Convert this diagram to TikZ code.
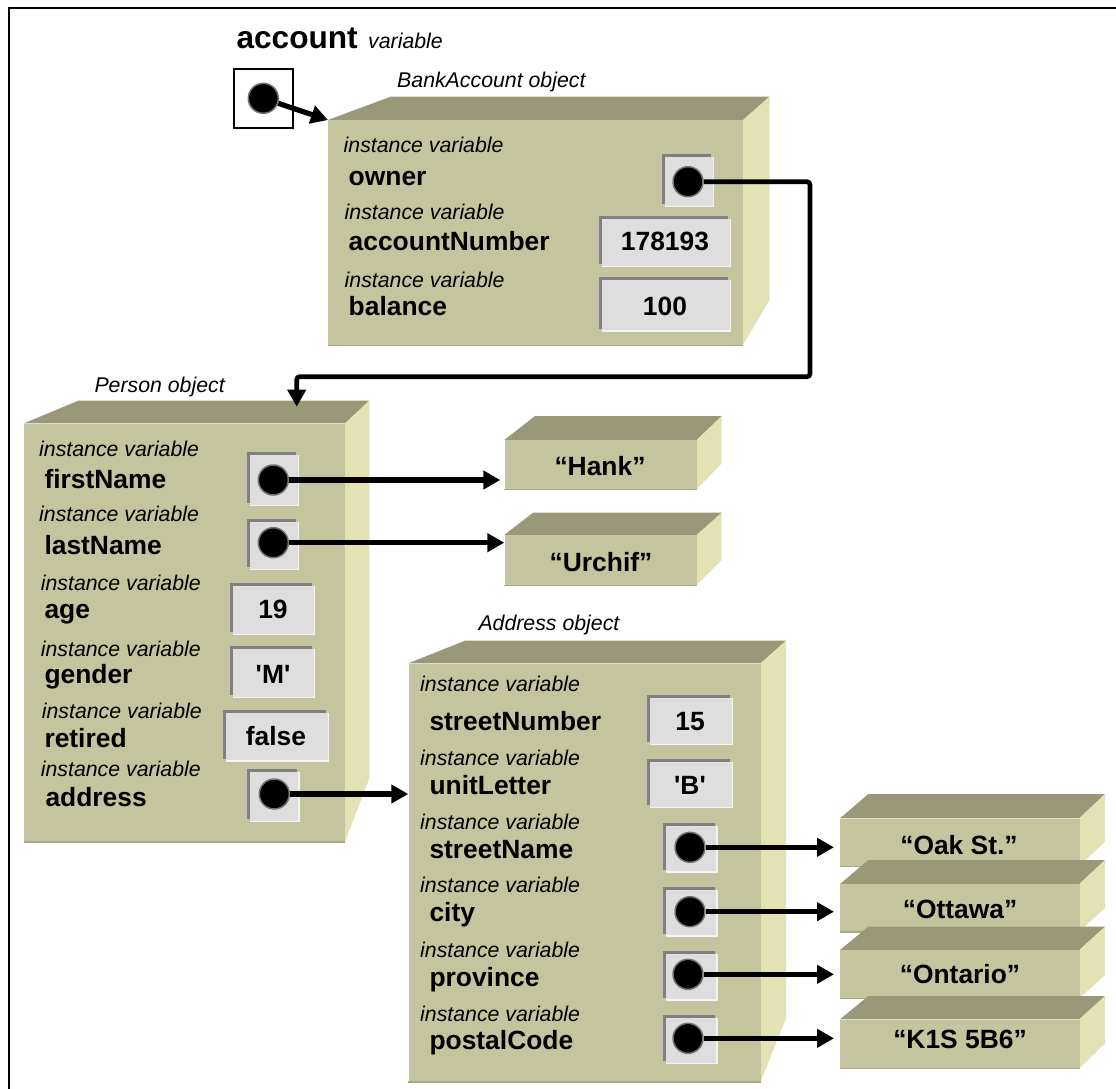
\documentclass[tikz,border=0pt]{standalone}
\usepackage{fontspec}
\newfontfamily\dsans{Liberation Sans}
\usetikzlibrary{arrows.meta}

\definecolor{frontc}{RGB}{196,196,158}
\definecolor{topc}{RGB}{153,153,122}
\definecolor{sidec}{RGB}{226,226,181}
\definecolor{edgec}{RGB}{168,168,135}
\definecolor{valdark}{RGB}{128,128,128}
\definecolor{valfill}{RGB}{222,222,222}
\definecolor{vallight}{RGB}{244,244,244}

\tikzset{
  ivlabel/.style={anchor=base west, inner sep=0pt, font=\dsans\itshape\fontsize{21.3}{25}\selectfont},
  fieldname/.style={anchor=base west, inner sep=0pt, font=\dsans\bfseries\fontsize{26.4}{30}\selectfont},
  valtext/.style={anchor=base, inner sep=0pt, font=\dsans\bfseries\fontsize{26.4}{30}\selectfont},
  frontface/.style={rectangle, fill=frontc, inner sep=0pt},
  dot/.style={circle, fill=black, draw=black!55, line width=1.5pt, minimum size=30pt, inner sep=0pt},
  ptr/.style={line width=5.2pt, -{Triangle[length=17pt,width=18pt]}},
}

% 3D object block: #1 name, (#2,#3) front top-left, (#4,#5) front bottom-right,
% #6 back top y, #7 back left x, #8 back right x, #9 back bottom y
\newcommand\objbox[9]{%
  \fill[topc] (#2,#3) -- (#7,#6) -- (#8,#6) -- (#4,#3) -- cycle;
  \fill[sidec] (#4,#3) -- (#8,#6) -- (#8,#9) -- (#4,#5) -- cycle;
  \pgfmathsetmacro\bw{#4-#2}%
  \pgfmathsetmacro\bh{#5-#3}%
  \node[frontface, minimum width=\bw pt, minimum height=\bh pt, anchor=north west] (#1) at (#2,#3) {};
  \draw[edgec, line width=1.5pt] (#1.south west) -- (#1.south east);
}

% sunken value slot: outer corners (#1,#2) and (#3,#4)
\newcommand\valbox[4]{%
  \fill[valdark] (#1,#2) rectangle ({#3-3},{#4-3});
  \fill[vallight] ({#1+3},{#2+3}) rectangle (#3,#4);
  \fill[valfill] ({#1+3},{#2+3}) rectangle ({#3-1.5},{#4-1.5});
}

\begin{document}
\begin{tikzpicture}[x=1pt,y=-1pt]
\useasboundingbox (0,0) rectangle (1116,1089);
\fill[white] (0,0) rectangle (1116,1089);

% outer frame
\draw[line width=2.5pt] (9,1089) -- (9,8) -- (1116,8);

% the reference variable
\node[anchor=base west, inner sep=0pt, font=\dsans\bfseries\fontsize{31.6}{36}\selectfont] (acctName) at (236.4,49) {account};
\node[ivlabel] (acctKind) at (368,49) {variable};
\node[draw, line width=2pt, fill=white, minimum width=59pt, minimum height=59pt, inner sep=0pt] (acctBox) at (263,98.4) {};
\node[dot] (pAcct) at (263.3,98.3) {};

% BankAccount object
\node[ivlabel] (bankLbl) at (397,88) {BankAccount object};
\objbox{bank}{328}{120}{743}{345}{96.7}{390.5}{769.5}{300}
\node[ivlabel] (bIv1) at (343.5,153) {instance variable};
\node[fieldname] (bOwner) at (348.5,185) {owner};
\node[ivlabel] (bIv2) at (344.5,219.3) {instance variable};
\node[fieldname] (bNum) at (348.5,250.5) {accountNumber};
\node[ivlabel] (bIv3) at (344.5,287) {instance variable};
\node[fieldname] (bBal) at (348.5,315) {balance};
\valbox{662}{154}{714}{207}
\valbox{599}{216}{731}{267}
\valbox{599}{277.3}{731}{331.7}
\node[valtext] (vNum) at (665,250.5) {178193};
\node[valtext] (vBal) at (665,315) {100};
\node[dot] (pOwner) at (688,181.7) {};

% Person object
\node[ivlabel] (personLbl) at (94.3,392) {Person object};
\objbox{person}{24}{423.3}{345}{841.7}{400.7}{78.3}{369.3}{778.3}
\coordinate (personIn) at (296.7,406.7);
\node[ivlabel] (pIv1) at (39,456) {instance variable};
\node[fieldname] (pFirstN) at (44.3,488.3) {firstName};
\node[ivlabel] (pIv2) at (39,521.7) {instance variable};
\node[fieldname] (pLastN) at (44.3,554.3) {lastName};
\node[ivlabel] (pIv3) at (40.7,590.7) {instance variable};
\node[fieldname] (pAgeN) at (44.3,618.3) {age};
\node[ivlabel] (pIv4) at (40.7,656.7) {instance variable};
\node[fieldname] (pGenN) at (44.3,683.3) {gender};
\node[ivlabel] (pIv5) at (41.7,718.3) {instance variable};
\node[fieldname] (pRetN) at (44.3,747.7) {retired};
\node[ivlabel] (pIv6) at (40.7,776.7) {instance variable};
\node[fieldname] (pAddrN) at (45.3,806) {address};
\valbox{246.7}{451.7}{299}{506}
\valbox{246.7}{519}{299}{570}
\valbox{230}{582.7}{315}{635}
\valbox{230}{646}{315}{698.3}
\valbox{223.3}{710}{329.3}{761.7}
\valbox{246.7}{769.3}{299.7}{822.3}
\node[valtext] (vAge) at (273,618.3) {19};
\node[valtext] (vGen) at (273,683.3) {'M'};
\node[valtext] (vRet) at (276,745) {false};
\node[dot] (pFirst) at (273.3,480) {};
\node[dot] (pLast) at (273.3,542.7) {};
\node[dot] (pAddr) at (274.3,794) {};

% String objects for the names
\objbox{hank}{504.3}{440}{696.7}{489.3}{416}{535}{721.7}{463.3}
\node[valtext] (tHank) at (600,475) {“Hank”};
\objbox{urchif}{504.3}{535}{696.7}{585}{512.7}{533}{721.7}{560}
\node[valtext] (tUrchif) at (601,571.7) {“Urchif”};

% Address object
\node[ivlabel] (addrLbl) at (478.3,630) {Address object};
\objbox{address}{408.3}{663.3}{760.7}{1081.7}{640.7}{465}{786}{1018.3}
\node[ivlabel] (aIv1) at (420,691.7) {instance variable};
\node[fieldname] (aNumN) at (429.3,730) {streetNumber};
\node[ivlabel] (aIv2) at (420,765) {instance variable};
\node[fieldname] (aUnitN) at (429.3,794.3) {unitLetter};
\node[ivlabel] (aIv3) at (420,829.3) {instance variable};
\node[fieldname] (aStreetN) at (429.3,858.3) {streetName};
\node[ivlabel] (aIv4) at (420,892.7) {instance variable};
\node[fieldname] (aCityN) at (429.3,921.7) {city};
\node[ivlabel] (aIv5) at (420,957.7) {instance variable};
\node[fieldname] (aProvN) at (429.3,986) {province};
\node[ivlabel] (aIv6) at (420,1021) {instance variable};
\node[fieldname] (aPostN) at (429.3,1049.3) {postalCode};
\valbox{646.7}{695}{733.3}{745}
\valbox{646.7}{759}{733.3}{808.3}
\valbox{662.7}{822.7}{717.7}{872.7}
\valbox{662.7}{886.7}{717.7}{936.7}
\valbox{662.7}{950.7}{717.7}{1000.7}
\valbox{662.7}{1015}{717.7}{1064.3}
\node[valtext] (vStNum) at (690,730) {15};
\node[valtext] (vUnit) at (690,794.3) {'B'};
\node[dot] (pStreet) at (690,847.3) {};
\node[dot] (pCity) at (690,911.7) {};
\node[dot] (pProv) at (688,974.3) {};
\node[dot] (pPost) at (688,1038.3) {};

% String objects for the address fields
\objbox{oak}{840}{818.3}{1079.3}{866}{794}{868.3}{1105}{841.7}
\node[valtext] (tOak) at (959,854) {“Oak St.”};
\objbox{ottawa}{840}{884}{1079.3}{931.7}{860}{868.3}{1105}{908}
\node[valtext] (tOttawa) at (960,918.3) {“Ottawa”};
\objbox{ontario}{840}{950}{1079.3}{998.3}{926.7}{868.3}{1105}{975}
\node[valtext] (tOntario) at (960,983.3) {“Ontario”};
\objbox{postal}{840}{1019.3}{1079.3}{1068.3}{996}{868.3}{1105}{1043.3}
\node[valtext] (tPostal) at (960,1048.3) {“K1S 5B6”};

% references
\draw[ptr] (pAcct) -- (bank.north west);
\draw[ptr, line width=4.6pt, rounded corners=3pt] (pOwner) -- (810,181.7) |- (296.7,376.7) -- (personIn);
\draw[ptr, shorten >=4pt] (pFirst) -- (pFirst -| hank.west);
\draw[ptr] (pLast) -- (pLast -| urchif.west);
\draw[ptr] (pAddr) -- (pAddr -| address.west);
\draw[ptr, shorten >=6pt] (pStreet) -- (pStreet -| oak.west);
\draw[ptr, shorten >=6pt] (pCity) -- (pCity -| ottawa.west);
\draw[ptr, shorten >=6pt] (pProv) -- (pProv -| ontario.west);
\draw[ptr, shorten >=6pt] (pPost) -- (pPost -| postal.west);
\end{tikzpicture}
\end{document}
